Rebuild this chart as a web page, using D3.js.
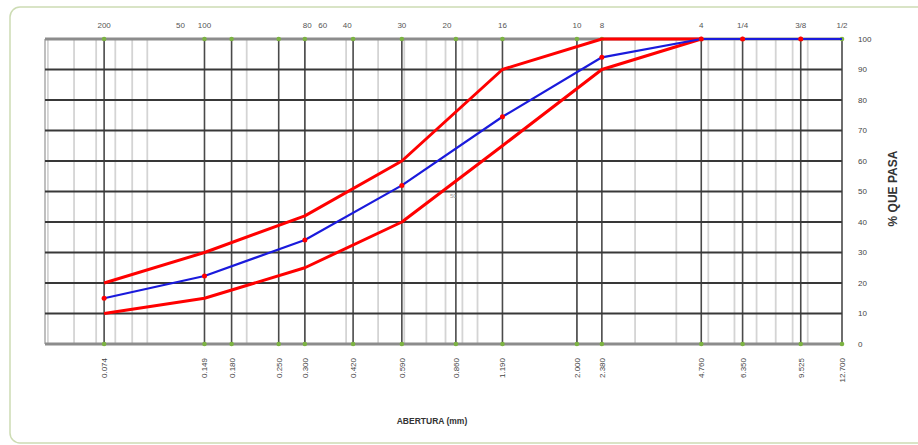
<!DOCTYPE html>
<html>
<head>
<meta charset="utf-8">
<script src="https://cdn.jsdelivr.net/npm/d3@7"></script>
<style>
  body { margin: 0; background: #fff; }
  svg { display: block; font-family: "Liberation Sans", Arial, sans-serif; }
</style>
</head>
<body>
<div id="chart"></div>
<script>
// sieve openings (mm) shown on the bottom axis
const openings = [0.074, 0.149, 0.180, 0.250, 0.300, 0.420, 0.590, 0.860, 1.190, 2.000, 2.380, 4.760, 6.350, 9.525, 12.700];
const openingLabels = ["0.074", "0.149", "0.180", "0.250", "0.300", "0.420", "0.590", "0.860", "1.190", "2.000", "2.380", "4.760", "6.350", "9.525", "12.700"];

// sieve names along the top (placed at the mm value where excel put them)
const sieveNames = ["200", "50", "100", "80", "60", "40", "30", "20", "16", "10", "8", "4", "1/4", "3/8", "1/2"];
const sieveNamePos = [0.074, 0.126, 0.149, 0.305, 0.34, 0.403, 0.590, 0.808, 1.190, 2.000, 2.380, 4.760, 6.350, 9.525, 12.700];

// gradation curve
const sampleMm = [0.074, 0.149, 0.300, 0.590, 1.190, 2.380, 4.760, 6.350, 9.525, 12.700];
const samplePass = [15, 22.3, 34.1, 52, 74.5, 94, 100, 100, 100, 100];

// spec limits
const limitMm = [0.074, 0.149, 0.300, 0.590, 1.190, 2.380, 4.760];
const upperLimit = [20, 30, 42, 60, 90, 100, 100];
const lowerLimit = [10, 15, 25, 40, 65, 90, 100];

const yTicks = [0, 10, 20, 30, 40, 50, 60, 70, 80, 90, 100];

const width = 918, height = 445;
const margin = { top: 39, right: 76, bottom: 101, left: 45 };

const svg = d3.select("#chart").append("svg")
    .attr("width", width)
    .attr("height", height);

// outer frame (light green, rounded)
svg.append("rect")
    .attr("x", 10).attr("y", 7)
    .attr("width", 940).attr("height", 436)
    .attr("rx", 10)
    .attr("fill", "none")
    .attr("stroke", "#cddcb4")
    .attr("stroke-width", 1.5);

const x = d3.scaleLog()
    .domain([0.049, 12.7])
    .range([margin.left, width - margin.right]);

const y = d3.scaleLinear()
    .domain([0, 100])
    .range([height - margin.bottom, margin.top]);

const grid = svg.append("g");

// minor log gridlines
const minor = [];
[0.01, 0.1, 1, 10].forEach(d => {
    for (let k = 1; k <= 9; k++) {
        const v = d * k;
        if (v > 0.049 && v < 12.7) minor.push(v);
    }
});
grid.selectAll(".minor")
    .data(minor)
    .join("line")
    .attr("x1", d => x(d)).attr("x2", d => x(d))
    .attr("y1", y(0)).attr("y2", y(100))
    .attr("stroke", "#d4d4d4")
    .attr("stroke-width", 1.8);

// left edge
grid.append("line")
    .attr("x1", x(0.049)).attr("x2", x(0.049))
    .attr("y1", y(0)).attr("y2", y(100))
    .attr("stroke", "#aaa")
    .attr("stroke-width", 1.5);

// sieve gridlines
grid.selectAll(".sieve")
    .data(openings)
    .join("line")
    .attr("x1", d => x(d)).attr("x2", d => x(d))
    .attr("y1", y(0)).attr("y2", y(100))
    .attr("stroke", "#4a4a4a")
    .attr("stroke-width", 1.6);

// horizontal gridlines
grid.selectAll(".hgrid")
    .data(yTicks.filter(d => d > 0 && d < 100))
    .join("line")
    .attr("x1", x(0.049)).attr("x2", x(12.7))
    .attr("y1", d => y(d)).attr("y2", d => y(d))
    .attr("stroke", "#383838")
    .attr("stroke-width", 2.2);

// top and bottom border lines
grid.selectAll(".border")
    .data([0, 100])
    .join("line")
    .attr("x1", x(0.049)).attr("x2", x(12.7))
    .attr("y1", d => y(d)).attr("y2", d => y(d))
    .attr("stroke", "#8c8c8c")
    .attr("stroke-width", 3);

// green markers on the axis lines
[0, 100].forEach(v => {
    grid.selectAll(null)
        .data(openings)
        .join("circle")
        .attr("cx", d => x(d))
        .attr("cy", y(v))
        .attr("r", 2.3)
        .attr("fill", "#7cb342");
});

// right axis labels
svg.append("g")
    .selectAll("text")
    .data(yTicks)
    .join("text")
    .attr("x", x(12.7) + 16)
    .attr("y", d => y(d))
    .attr("dy", "0.35em")
    .attr("font-size", 8)
    .attr("fill", "#444")
    .text(d => d);

svg.append("text")
    .attr("transform", `translate(${x(12.7) + 55}, ${y(50) - 3}) rotate(-90)`)
    .attr("text-anchor", "middle")
    .attr("font-size", 12)
    .attr("font-weight", "bold")
    .attr("fill", "#333")
    .text("% QUE PASA");

// top sieve names
svg.append("g")
    .selectAll("text")
    .data(sieveNames)
    .join("text")
    .attr("x", (d, i) => x(sieveNamePos[i]))
    .attr("y", 28)
    .attr("text-anchor", "middle")
    .attr("font-size", 8)
    .attr("fill", "#555")
    .text(d => d);

// bottom opening labels
svg.append("g")
    .selectAll("text")
    .data(openingLabels)
    .join("text")
    .attr("transform", (d, i) => `translate(${x(openings[i]) + 3}, ${y(0) + 14}) rotate(-90)`)
    .attr("text-anchor", "end")
    .attr("font-size", 8)
    .attr("fill", "#444")
    .text(d => d);

svg.append("text")
    .attr("x", 432)
    .attr("y", 424)
    .attr("text-anchor", "middle")
    .attr("font-size", 8.5)
    .attr("font-weight", "bold")
    .attr("fill", "#333")
    .text("ABERTURA (mm)");

// curves (excel-style straight segments)
const lineGen = (xs, ys) => d3.line()
    .x((d, i) => x(xs[i]))
    .y(d => y(d))(ys);

svg.append("path")
    .attr("d", lineGen(limitMm, upperLimit))
    .attr("fill", "none")
    .attr("stroke", "#ff0000")
    .attr("stroke-width", 3)
    .attr("stroke-linejoin", "round");

svg.append("path")
    .attr("d", lineGen(limitMm, lowerLimit))
    .attr("fill", "none")
    .attr("stroke", "#ff0000")
    .attr("stroke-width", 3)
    .attr("stroke-linejoin", "round");

svg.append("path")
    .attr("d", lineGen(sampleMm, samplePass))
    .attr("fill", "none")
    .attr("stroke", "#1a1adc")
    .attr("stroke-width", 2.2)
    .attr("stroke-linejoin", "round");

svg.append("g")
    .selectAll("circle")
    .data(samplePass.slice(0, -1))
    .join("circle")
    .attr("cx", (d, i) => x(sampleMm[i]))
    .attr("cy", d => y(d))
    .attr("r", 2.5)
    .attr("fill", "#ff0000");

// stray label in the plot
svg.append("text")
    .attr("x", x(0.86) - 6)
    .attr("y", y(48))
    .attr("font-size", 6)
    .attr("fill", "#999")
    .text("50");
</script>
</body>
</html>
